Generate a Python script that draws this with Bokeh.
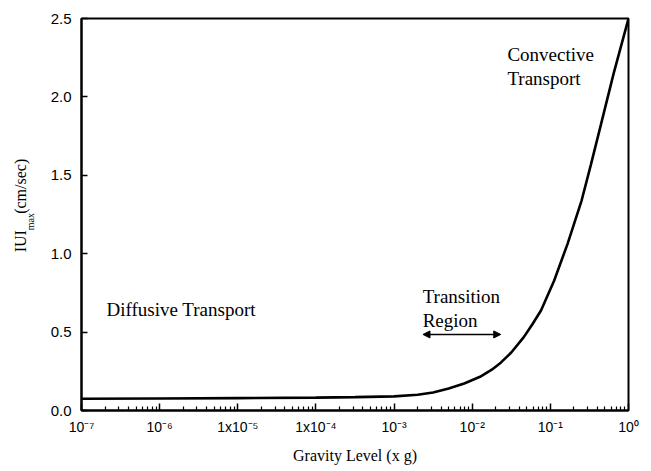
import math
from bokeh.plotting import figure
from bokeh.layouts import row
from bokeh.core.properties import value
from bokeh.models import (FixedTicker, CustomJSTickFormatter, PrintfTickFormatter,
                          Label, Arrow, NormalHead, Range1d)
from bokeh.embed import file_html
from bokeh.resources import INLINE

# Maximum velocity magnitude vs. gravity level
gravity = [1e-7, 1e-6, 1e-5, 1e-4, 3.16e-4, 1e-3, 2.0e-3, 3.16e-3, 5.0e-3,
           7.9e-3, 1.26e-2, 1.78e-2, 2.32e-2, 3.16e-2, 4.57e-2, 5.89e-2,
           7.59e-2, 0.112, 0.166, 0.251, 0.331, 0.442, 0.646, 1.0]
u_max = [0.075, 0.077, 0.079, 0.082, 0.085, 0.090, 0.100, 0.115, 0.140,
         0.172, 0.215, 0.260, 0.305, 0.370, 0.468, 0.550,
         0.638, 0.829, 1.063, 1.339, 1.570, 1.820, 2.150, 2.500]

x_tick_values = [1e-7, 1e-6, 1e-5, 1e-4, 1e-3, 1e-2, 1e-1, 1.0]
x_tick_labels = ["10\u207b\u2077", "10\u207b\u2076", "1x10\u207b\u2075", "1x10\u207b\u2074",
                 "10\u207b\u00b3", "10\u207b\u00b2", "10\u207b\u00b9", "10\u2070"]
y_tick_values = [0.0, 0.5, 1.0, 1.5, 2.0, 2.5]

SERIF = "Liberation Serif"
SANS = "Liberation Sans"

TOP, BOTTOM = 18, 61

p = figure(width=611, height=471, x_axis_type="log",
           x_range=Range1d(1e-7, 1.0), y_range=Range1d(0, 2.5),
           output_backend="svg", toolbar_location=None,
           min_border_left=41, min_border_right=23,
           min_border_top=TOP, min_border_bottom=BOTTOM)

p.grid.visible = False
p.outline_line_color = "black"
p.outline_line_width = 2
p.background_fill_color = "white"
p.border_fill_color = "white"

# x axis: decades with 2..9 minor ticks, all pointing inward
minor = [k * d for d in x_tick_values[:-1] for k in range(2, 10)]
xa = p.xaxis[0]
xa.ticker = FixedTicker(ticks=x_tick_values, minor_ticks=minor)
xa.formatter = CustomJSTickFormatter(args=dict(labels=x_tick_labels), code="""
    const i = Math.round(Math.log10(tick)) + 7;
    return labels[i];
""")
xa.major_tick_in = 7
xa.major_tick_out = 0
xa.minor_tick_in = 4
xa.minor_tick_out = 0
xa.axis_line_width = 2
xa.major_tick_line_width = 1.5
xa.minor_tick_line_width = 1.2
xa.major_label_text_font = SANS
xa.major_label_text_font_size = "14px"
xa.major_label_text_color = "black"
xa.major_label_standoff = 8
xa.axis_label = "Gravity Level (x g)"
xa.axis_label_text_font = SERIF
xa.axis_label_text_font_size = "16px"
xa.axis_label_text_font_style = "normal"
xa.axis_label_text_color = "black"
xa.axis_label_standoff = 9

ya = p.yaxis[0]
ya.ticker = FixedTicker(ticks=y_tick_values)
ya.formatter = PrintfTickFormatter(format="%.1f")
ya.major_tick_in = 6
ya.major_tick_out = 0
ya.minor_tick_line_color = None
ya.axis_line_width = 2
ya.major_tick_line_width = 1.5
ya.major_label_text_font = SANS
ya.major_label_text_font_size = "15px"
ya.major_label_text_color = "black"
ya.major_label_standoff = 10

p.line(gravity, u_max, line_color="black", line_width=2.6)

notes = [("Diffusive Transport", 10 ** -6.68, 0.644),
         ("Transition", 10 ** -2.634, 0.727),
         ("Region", 10 ** -2.634, 0.574),
         ("Convective", 10 ** -1.55, 2.27),
         ("Transport", 10 ** -1.55, 2.115)]
for txt, xv, yv in notes:
    p.add_layout(Label(x=xv, y=yv, text=txt, text_font=SERIF, text_font_size="19px",
                       text_color="black", text_align="left", text_baseline="middle"))

head = dict(size=7, fill_color="black", line_color="black")
p.add_layout(Arrow(x_start=10 ** -2.63, x_end=10 ** -1.635, y_start=0.485, y_end=0.485,
                   start=NormalHead(**head), end=NormalHead(**head),
                   line_width=1.5, line_color="black"))

# narrow strip on the left carrying the rotated y-axis title |U|max (cm/sec)
side = figure(width=40, height=471, x_range=Range1d(0, 1), y_range=Range1d(0, 2.5),
              output_backend="svg", toolbar_location=None,
              x_axis_location=None, y_axis_location=None,
              min_border_left=0, min_border_right=0,
              min_border_top=TOP, min_border_bottom=BOTTOM)
side.grid.visible = False
side.outline_line_color = None
side.background_fill_color = "white"
side.border_fill_color = "white"

title_parts = ["IUI", "(cm/sec)"]
title_x = [0.5, 0.5]
title_y = [1.08, 1.43]
side.text(x=title_x, y=title_y, text=title_parts, angle=math.pi / 2,
          text_font=value(SERIF), text_font_size="16px", text_color="black",
          text_align="center", text_baseline="middle")
side.text(x=[0.76], y=[1.205], text=["max"], angle=math.pi / 2,
          text_font=value(SERIF), text_font_size="10px", text_color="black",
          text_align="center", text_baseline="middle")

layout = row(side, p, spacing=0)
open("out.html", "w").write(file_html(layout, INLINE))
